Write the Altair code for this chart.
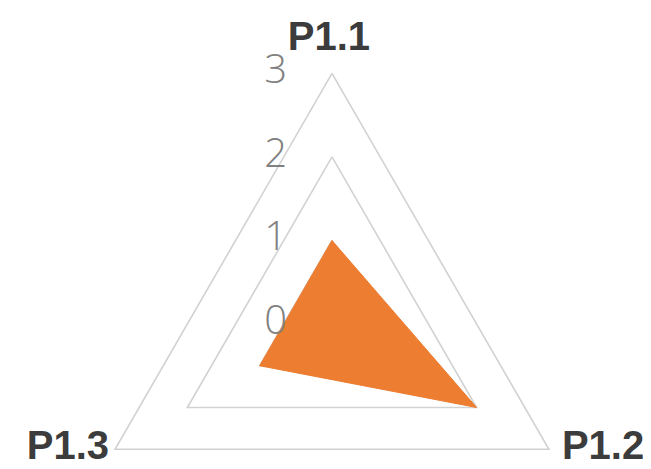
import altair as alt
import pandas as pd

# ---- data ----
categories = ["P1.1", "P1.2", "P1.3"]
values = [1, 2, 1]
angles_deg = [90, -30, 210]          # direction of each spoke
grid_levels = [1, 2, 3]
tick_values = [0, 1, 2, 3]
tick_labels = ["0", "1", "2", "3"]

ORANGE = "#ED7D31"
GRID = "#d2d2d2"

n = len(categories)

grid_df = pd.DataFrame(
    [{"level": lv, "ord": i, "angle": angles_deg[i % n], "r": lv}
     for lv in grid_levels for i in range(n + 1)]
)
poly_df = pd.DataFrame(
    [{"ord": i, "angle": angles_deg[i % n], "r": values[i % n], "cat": categories[i % n]}
     for i in range(n + 1)]
)
tick_df = pd.DataFrame({"r": tick_values, "label": tick_labels, "angle": [90] * len(tick_values)})
cat_df = pd.DataFrame({"cat": categories, "angle": angles_deg, "r": [max(grid_levels)] * n})

xs = alt.Scale(domain=[-3.88, 3.725])
ys = alt.Scale(domain=[-1.641, 3.784])

def pos(ch):
    return ch.transform_calculate(
        x="datum.r*cos(datum.angle*PI/180)",
        y="datum.r*sin(datum.angle*PI/180)",
    )

X = alt.X("x:Q", scale=xs, axis=None)
Y = alt.Y("y:Q", scale=ys, axis=None)

grid = pos(alt.Chart(grid_df)).mark_line(color=GRID, strokeWidth=1.6).encode(
    x=X, y=Y, detail="level:N", order="ord:Q"
)

poly = pos(alt.Chart(poly_df)).mark_line(
    fill=ORANGE, stroke=ORANGE, strokeWidth=1, fillOpacity=1
).encode(x=X, y=Y, order="ord:Q")

ticks = pos(alt.Chart(tick_df)).mark_text(
    align="right", baseline="middle", dx=-45, dy=-2,
    font="Open Sans", fontWeight=300, fontSize=40, color="#808080"
).encode(x=X, y=Y, text="label:N")

def cat_label(name, **kw):
    return pos(alt.Chart(cat_df)).transform_filter(
        alt.datum.cat == name
    ).mark_text(
        font="Liberation Sans", fontWeight="bold", fontSize=40, color="#3c3c3c", **kw
    ).encode(x=X, y=Y, text="cat:N")

lab1 = cat_label("P1.1", align="center", baseline="alphabetic", dy=-23, dx=-3)
lab2 = cat_label("P1.2", align="left", baseline="alphabetic", dx=13, dy=10)
lab3 = cat_label("P1.3", align="right", baseline="alphabetic", dx=-6, dy=10)

chart = alt.layer(grid, poly, ticks, lab1, lab2, lab3).properties(
    width=635, height=453,
    autosize=alt.AutoSizeParams(type="none"),
    padding=0,
).configure_view(stroke=None)

chart.save("out.html", embed_options={"renderer": "svg", "actions": False})
